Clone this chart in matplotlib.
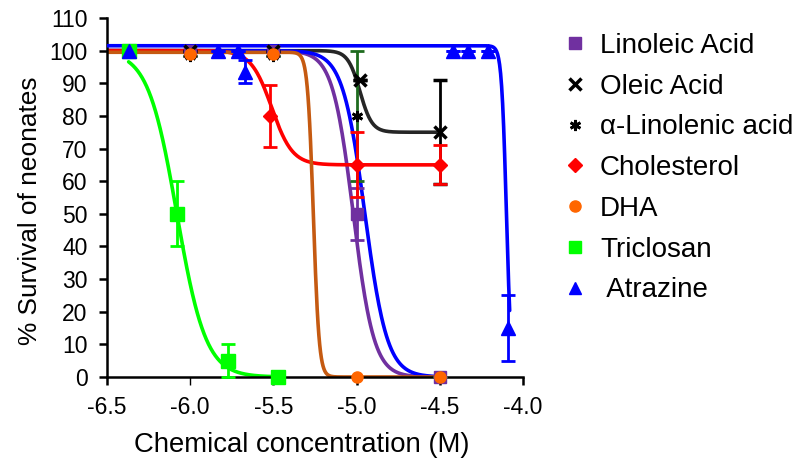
import numpy as np
import matplotlib
matplotlib.use("Agg")
import matplotlib.pyplot as plt
from matplotlib.lines import Line2D

plt.rcParams['font.family'] = ['Liberation Sans', 'DejaVu Sans']

# measured points (log10 M, % survival, error)
lin_x = [-6.0, -5.5, -5.0, -4.5]
lin_y = [100, 100, 50, 0]
lin_err = [0, 0, 8, 0]

ole_x = [-6.0, -5.5, -4.98, -4.5]
ole_y = [100, 100, 91, 75]
ole_err = [0, 0, 0, 16]

ala_x = [-6.0, -5.5, -5.0, -4.5]
ala_y = [98.5, 98.5, 80, 0]
ala_err = [0, 0, 20, 0]

chol_x = [-5.52, -5.0, -4.5]
chol_y = [80, 65, 65]
chol_err = [9.5, 10, 6]

dha_x = [-6.0, -5.5, -5.0, -4.5]
dha_y = [99, 99, 0, 0]

tri_x = [-6.37, -6.08, -5.77, -5.47]
tri_y = [100, 50, 5, 0]
tri_err = [0, 10, 5, 0]

atr_x = [-6.37, -5.83, -5.71, -5.67, -4.42, -4.33, -4.21, -4.09]
atr_y = [100, 100, 100, 93.5, 100, 100, 100, 15]
atr_err = [0, 0, 0, 3.5, 0, 0, 0, 10]

# fitted dose-response curves: top, bottom, logEC50, hill slope, x range
curve_top = [100, 100, 100, 100, 99.5, 100, 101.5]
curve_bottom = [0, 75, 0, 65, 0, 0, 0]
curve_ec50 = [-5.02, -4.98, -4.95, -5.51, -5.26, -6.08, -4.10]
curve_hill = [7, 12, 6.5, 7, 25, 5, 30]
curve_start = [-6.5, -6.5, -6.5, -6.5, -6.5, -6.37, -6.5]
curve_end = [-4.5, -4.5, -4.5, -4.5, -4.5, -5.47, -4.08]
curve_colors = ['#7030A0', '#262626', '#0000FF', '#FF0000', '#C55A11', '#00FF00', '#0000FF']

fig = plt.figure(figsize=(8.01, 4.61), dpi=100)
ax = fig.add_axes([107 / 801, 1 - 377 / 461, (523 - 107) / 801, (377 - 18) / 461])

for i in range(len(curve_top)):
    xs = np.linspace(curve_start[i], curve_end[i], 400)
    ys = curve_bottom[i] + (curve_top[i] - curve_bottom[i]) / (1 + 10 ** ((xs - curve_ec50[i]) * curve_hill[i]))
    ax.plot(xs, ys, color=curve_colors[i], lw=2.6, zorder=2 + i * 0.1, solid_capstyle='round')

eb = dict(capsize=5, elinewidth=2, capthick=2, linestyle='none', clip_on=False, zorder=4)
ax.errorbar(lin_x, lin_y, yerr=lin_err, fmt='s', color='#7030A0', ms=8, **eb)
ax.errorbar(ala_x, ala_y, yerr=ala_err, fmt='none', ecolor='#1E6B1E', **eb)
ax.plot(ala_x, ala_y, marker=(6, 2, 0), ms=8, mew=2, color='black', ls='none', zorder=5, clip_on=False)
ax.errorbar(ole_x, ole_y, yerr=ole_err, fmt='x', color='black', ms=8, mew=2.5, **eb)
ax.errorbar(chol_x, chol_y, yerr=chol_err, fmt='D', color='#FF0000', ms=7, **eb)
ax.plot(dha_x, dha_y, 'o', color='#FF6600', ms=8, ls='none', zorder=5, clip_on=False)
ax.errorbar(tri_x, tri_y, yerr=tri_err, fmt='s', color='#00FF00', ms=10, **eb)
ax.errorbar(atr_x, atr_y, yerr=atr_err, fmt='^', color='#0000FF', ms=10, **eb)

ax.set_xlim(-6.5, -4.0)
ax.set_ylim(0, 110)
ax.set_xticks(np.arange(-6.5, -3.99, 0.5))
ax.set_xticklabels(['-6.5', '-6.0', '-5.5', '-5.0', '-4.5', '-4.0'])
ax.set_yticks(np.arange(0, 111, 10))
for s in ['top', 'right']:
    ax.spines[s].set_visible(False)
for s in ['left', 'bottom']:
    ax.spines[s].set_linewidth(1.8)
ax.tick_params(direction='out', length=6, width=1.8, labelsize=16.5)
ax.tick_params(axis='y', pad=8)
ax.tick_params(axis='x', pad=8)
ax.xaxis.get_major_ticks()[1].tick1line.set_color('#5B9BD5')
ax.xaxis.get_major_ticks()[1].tick1line.set_markeredgewidth(1)

ax.set_xlabel('Chemical concentration (M)', fontsize=19.8, labelpad=9)
ax.set_ylabel('% Survival of neonates', fontsize=18.9, labelpad=5)
ax.xaxis.label.set_x(0.4675)
ax.yaxis.label.set_y(0.462)

handles = [
    Line2D([], [], marker='s', color='#7030A0', ls='none', ms=8),
    Line2D([], [], marker='x', color='black', ls='none', ms=8, mew=2.5),
    Line2D([], [], marker=(6, 2, 0), color='black', ls='none', ms=8, mew=2),
    Line2D([], [], marker='D', color='#FF0000', ls='none', ms=7),
    Line2D([], [], marker='o', color='#FF6600', ls='none', ms=8),
    Line2D([], [], marker='s', color='#00FF00', ls='none', ms=8),
    Line2D([], [], marker='^', color='#0000FF', ls='none', ms=8),
]
labels = ['Linoleic Acid', 'Oleic Acid', 'α-Linolenic acid', 'Cholesterol', 'DHA', 'Triclosan', ' Atrazine']
fig.legend(handles, labels, loc='upper left', bbox_to_anchor=(561 / 801, 1 - 33 / 461),
           frameon=False, fontsize=20, labelspacing=0.53, handletextpad=0.4, handlelength=1.0,
           borderpad=0, borderaxespad=0)

fig.savefig('out.png', dpi=100)
